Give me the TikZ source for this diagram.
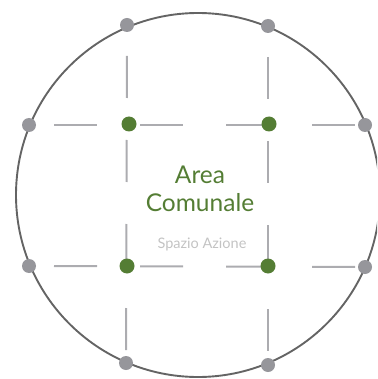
\documentclass[tikz,border=0pt]{standalone}
\usepackage{fontspec}
\setmainfont{Lato}
\usetikzlibrary{backgrounds}
\definecolor{leaf}{RGB}{84,125,52}
\definecolor{stone}{RGB}{150,150,155}
\definecolor{rail}{RGB}{172,172,176}
\definecolor{rim}{RGB}{100,100,100}
\definecolor{mist}{RGB}{195,195,195}

\begin{document}
\begin{tikzpicture}[x=1pt,y=-1pt,
  hub/.style={circle,fill=leaf,inner sep=0pt,minimum size=15pt},
  pin/.style={circle,fill=stone,inner sep=0pt,minimum size=14pt},
  hrail/.style={rail,line width=2pt,dash pattern=on 43pt off 43pt,dash phase=61pt},
  vrail/.style={rail,line width=2pt,dash pattern=on 42pt off 42pt,dash phase=53pt}]
  \clip (0,0) rectangle (377,379);
  % outer ring
  \node[draw=rim,line width=1.9pt,circle,inner sep=0pt,minimum size=364pt] (ring) at (198,195) {};
  % grey pins on the ring
  \node[pin] (t1) at (127,25) {};
  \node[pin] (t2) at (268,26) {};
  \node[pin] (l1) at (29,125) {};
  \node[pin] (l2) at (29,266) {};
  \node[pin] (r1) at (365,125) {};
  \node[pin] (r2) at (365,267) {};
  \node[pin] (b1) at (126,363) {};
  \node[pin] (b2) at (268,365) {};
  % green hubs
  \node[hub] (h1) at (129,124) {};
  \node[hub] (h2) at (269,124) {};
  \node[hub] (h3) at (127,266) {};
  \node[hub] (h4) at (268,266) {};
  % dashed rails
  \begin{pgfonlayer}{background}
    \draw[hrail] (l1.center) -- (r1.center);
    \draw[hrail] (l2.center) -- (r2.center);
    \draw[vrail] (t1.center) -- (b1.center);
    \draw[vrail] (t2.center) -- (b2.center);
  \end{pgfonlayer}
  % labels
  \node[leaf,font=\fontsize{24.5}{28}\selectfont,align=center] (title) at (200,189) {Area\\Comunale};
  \node[mist,font=\fontsize{14.5}{17}\selectfont] (sub) at (202,244) {Spazio Azione};
\end{tikzpicture}
\end{document}
